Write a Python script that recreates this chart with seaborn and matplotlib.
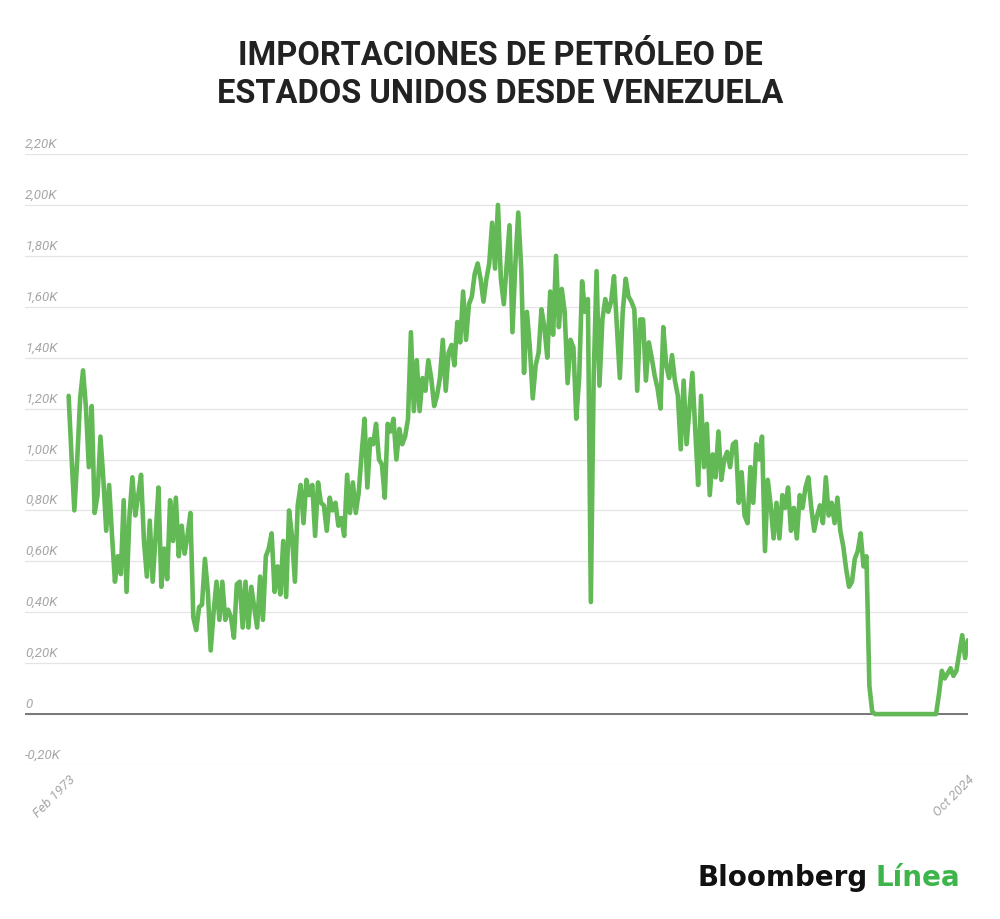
import numpy as np
import pandas as pd
import matplotlib
matplotlib.use("Agg")
import matplotlib.pyplot as plt
import matplotlib.transforms as mtransforms
import seaborn as sns

# US crude oil imports from Venezuela, thousand barrels/day,
# one value every two months from Feb 1973 to Oct 2024
imports_1970s = [
    1.25, 1.02, 0.80, 1.00, 1.24, 1.35,
    1.20, 0.97, 1.21, 0.79, 0.86, 1.09,
    0.92, 0.72, 0.90, 0.70, 0.52, 0.62,
    0.55, 0.84, 0.48, 0.78, 0.93, 0.78,
    0.86, 0.94, 0.68, 0.54, 0.76, 0.52,
    0.70, 0.89, 0.50, 0.65, 0.53, 0.84,
    0.68, 0.85, 0.62, 0.74, 0.63, 0.70,
]
imports_1980s = [
    0.79, 0.38, 0.33, 0.42, 0.43, 0.61,
    0.48, 0.25, 0.40, 0.52, 0.37, 0.52,
    0.37, 0.41, 0.38, 0.30, 0.51, 0.52,
    0.34, 0.52, 0.34, 0.50, 0.42, 0.34,
    0.54, 0.37, 0.62, 0.65, 0.71, 0.48,
    0.58, 0.47, 0.68, 0.46, 0.80, 0.70,
    0.52, 0.82, 0.90, 0.75, 0.92, 0.86,
    0.90, 0.70, 0.91, 0.83, 0.82, 0.72,
    0.85, 0.80, 0.83, 0.74, 0.77, 0.70,
    0.94, 0.79, 0.91, 0.79, 0.87, 1.02,
]
imports_1990s = [
    1.16, 0.89, 1.08, 1.06, 1.14, 1.00,
    0.98, 0.85, 1.14, 1.11, 1.16, 1.00,
    1.12, 1.06, 1.09, 1.16, 1.50, 1.19,
    1.39, 1.19, 1.32, 1.27, 1.39, 1.32,
    1.21, 1.25, 1.32, 1.47, 1.27, 1.42,
    1.45, 1.37, 1.54, 1.46, 1.66, 1.47,
    1.61, 1.64, 1.73, 1.77, 1.71, 1.62,
    1.71, 1.77, 1.93, 1.75, 2.00, 1.71,
    1.61, 1.76, 1.92, 1.50, 1.77, 1.97,
    1.75, 1.34, 1.58, 1.44, 1.24, 1.37,
]
imports_2000s = [
    1.42, 1.59, 1.52, 1.40, 1.66, 1.49,
    1.80, 1.52, 1.67, 1.58, 1.30, 1.47,
    1.44, 1.16, 1.32, 1.70, 1.58, 1.63,
    0.44, 1.32, 1.74, 1.29, 1.55, 1.63,
    1.58, 1.62, 1.72, 1.52, 1.32, 1.58,
    1.71, 1.64, 1.62, 1.59, 1.27, 1.55,
    1.55, 1.31, 1.46, 1.40, 1.33, 1.28,
    1.20, 1.52, 1.37, 1.32, 1.41, 1.31,
    1.25, 1.04, 1.31, 1.06, 1.20, 1.34,
    1.11, 0.90, 1.25, 0.97, 1.14, 0.86,
]
imports_2010s = [
    1.02, 0.93, 1.11, 0.92, 1.00, 1.03,
    0.97, 1.06, 1.07, 0.83, 0.95, 0.78,
    0.75, 0.97, 0.83, 1.06, 1.00, 1.09,
    0.64, 0.92, 0.82, 0.69, 0.83, 0.69,
    0.86, 0.81, 0.89, 0.72, 0.81, 0.69,
    0.86, 0.81, 0.89, 0.93, 0.81, 0.72,
    0.78, 0.82, 0.75, 0.93, 0.78, 0.83,
    0.75, 0.85, 0.72, 0.66, 0.57, 0.50,
    0.52, 0.61, 0.64, 0.71, 0.58, 0.62,
    0.11, 0.01, 0.00, 0.00, 0.00, 0.00,
]
imports_2020s = [
    0.00, 0.00, 0.00, 0.00, 0.00, 0.00,
    0.00, 0.00, 0.00, 0.00, 0.00, 0.00,
    0.00, 0.00, 0.00, 0.00, 0.00, 0.00,
    0.08, 0.17, 0.14, 0.16, 0.18, 0.15,
    0.17, 0.24, 0.31, 0.22, 0.29,
]

y_ticks = [-0.2, 0.0, 0.2, 0.4, 0.6, 0.8, 1.0, 1.2, 1.4, 1.6, 1.8, 2.0, 2.2]
y_tick_labels = ["-0,20K", "0", "0,20K", "0,40K", "0,60K", "0,80K", "1,00K",
                 "1,20K", "1,40K", "1,60K", "1,80K", "2,00K", "2,20K"]
x_labels = ["Feb 1973", "Oct 2024"]

title = "IMPORTACIONES DE PETRÓLEO DE\nESTADOS UNIDOS DESDE VENEZUELA"

imports = imports_1970s + imports_1980s + imports_1990s + imports_2000s + imports_2010s + imports_2020s
dates = pd.date_range("1973-02-01", "2024-10-01", freq="2MS")
df = pd.DataFrame({"fecha": dates, "importaciones": imports})

sns.set_theme(style="white")
plt.rcParams["font.family"] = ["Roboto", "DejaVu Sans"]

GREEN = "#62b955"
LABEL_GRAY = "#a6a6a6"

fig = plt.figure(figsize=(10, 9.2), dpi=100)
fig.patch.set_facecolor("white")
ax = fig.add_axes([0.025, 1 - 766 / 920, 0.943, (766 - 155) / 920])

# grid first, then the zero line, then the series on top
for v in y_ticks:
    ax.axhline(v, color="#e4e4e4", linewidth=0.9, zorder=0)
ax.axhline(0, color="#6e6e6e", linewidth=1.3, zorder=1)

sns.lineplot(data=df, x="fecha", y="importaciones", ax=ax, color=GREEN,
             linewidth=3.3, zorder=3)

ax.set_ylim(-0.2, 2.2)
ax.set_xlim(dates[0] - pd.DateOffset(months=30), dates[-1])
ax.set_xticks([])
ax.set_yticks([])
ax.set_xlabel("")
ax.set_ylabel("")
for s in ax.spines.values():
    s.set_visible(False)

# y labels sit on top of their grid lines, left aligned
ytrans = mtransforms.blended_transform_factory(ax.transAxes, ax.transData)
for v, lab in zip(y_ticks, y_tick_labels):
    ax.annotate(lab, xy=(0, v), xycoords=ytrans, xytext=(0, 3), textcoords="offset points",
                ha="left", va="bottom", fontsize=9.5, style="italic", color=LABEL_GRAY)

# first and last date, rotated
xtrans = mtransforms.blended_transform_factory(ax.transData, ax.transAxes)
for d, lab in zip([dates[0], dates[-1]], x_labels):
    ax.text(d, -0.012, lab, transform=xtrans, rotation=45, rotation_mode="anchor",
            ha="right", va="top", fontsize=9.5, style="italic", color=LABEL_GRAY)

fig.text(0.5, 1 - 75 / 920, title, ha="center", va="center", fontsize=23.5,
         fontweight="bold", color="#222222", linespacing=1.25)

fig.text(0.697, 1 - 886 / 920, "Bloomberg", ha="left", va="baseline", fontsize=20,
         fontweight="bold", color="#111111", family="DejaVu Sans")
fig.text(0.875, 1 - 886 / 920, "Línea", ha="left", va="baseline", fontsize=20,
         fontweight="bold", color="#3db54a", family="DejaVu Sans")

fig.savefig("out.png", dpi=100)
